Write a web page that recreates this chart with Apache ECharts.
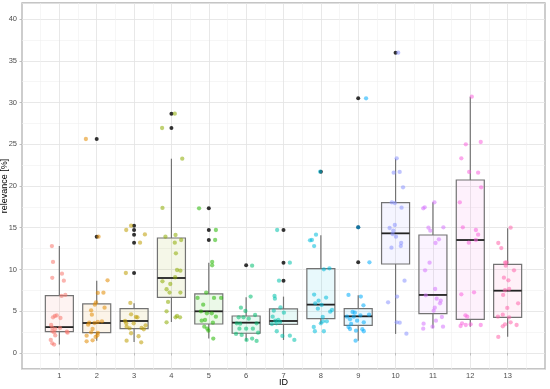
<!DOCTYPE html>
<html>
<head>
<meta charset="utf-8">
<script src="https://cdn.jsdelivr.net/npm/echarts@6/dist/echarts.min.js"></script>
<style>html,body{margin:0;padding:0;background:#fff}#c{width:550px;height:389px}</style>
</head>
<body>
<div id="c"></div>
<script>
// ---------- data ----------
const categories = [1,2,3,4,5,6,7,8,9,10,11,12,13];
const yTicks = [0,5,10,15,20,25,30,35,40];
// [whisker low, Q1, median, Q3, whisker high]
const boxStats = [
  [1.0, 2.55, 3.1, 6.86, 12.8],
  [1.47, 2.43, 3.59, 5.87, 8.66],
  [1.32, 2.91, 3.83, 5.31, 5.95],
  [3.71, 6.67, 8.98, 13.77, 23.27],
  [1.72, 3.47, 4.99, 7.07, 10.82],
  [1.47, 2.36, 3.63, 4.43, 6.67],
  [1.56, 3.43, 3.83, 5.27, 6.75],
  [3.47, 4.11, 5.79, 10.1, 14.09],
  [1.47, 3.31, 4.39, 5.31, 6.91],
  [2.28, 10.66, 14.33, 18.0, 23.27],
  [2.95, 4.71, 6.95, 14.13, 18.05],
  [3.15, 4.03, 13.53, 20.72, 30.7],
  [1.95, 4.27, 7.46, 10.62, 14.93]
];
// outlier values per ID
const outliers = [
  [],
  [25.63, 13.93],
  [15.25, 14.73, 14.17, 13.21, 9.58],
  [28.66, 26.95],
  [17.33, 14.73, 13.53],
  [10.5],
  [14.73, 10.82, 8.66],
  [21.72],
  [30.5, 15.05, 10.86],
  [35.97],
  [],
  [],
  []
];
// jittered observations per ID: [x position, relevance]
const points1 = [[0.80,12.8],[0.83,10.9],[1.07,9.5],[0.81,9.0],[1.12,8.66],[1.06,6.83],[1.16,6.95],[0.88,4.43],[0.93,4.5],[1.03,4.19],[0.83,4.27],[0.78,3.35],[0.81,3.03],[1.02,3.0],[0.89,2.87],[0.81,2.6],[0.86,2.48],[1.20,2.55],[1.22,2.43],[0.89,2.1],[0.77,1.56],[0.81,1.16],[0.86,1.0]];
const points2 = [[2.05,13.93],[1.71,25.63],[2.29,8.7],[2.03,7.19],[2.18,7.22],[1.98,6.07],[1.95,5.79],[2.21,5.43],[1.85,5.11],[1.87,4.59],[2.14,3.79],[1.80,3.63],[1.77,3.39],[1.94,3.59],[2.03,3.71],[1.89,2.87],[1.85,2.47],[2.03,2.4],[2.02,2.12],[1.73,2.07],[1.97,1.92],[1.89,1.52],[1.73,1.40]];
const points3 = [[2.92,15.25],[2.79,14.73],[3.29,14.2],[3.16,13.21],[2.78,9.58],[2.90,5.99],[2.92,4.63],[3.09,4.27],[3.05,4.31],[2.76,3.83],[2.79,3.55],[2.99,3.55],[3.31,3.31],[3.20,3.0],[3.26,2.84],[2.88,2.95],[3.12,2.0],[2.80,1.47],[3.19,1.28],[2.92,2.36],[2.80,3.15]];
const points4 = [[4.09,28.66],[3.75,26.95],[4.29,23.27],[3.76,17.37],[3.84,13.93],[4.11,14.13],[4.09,13.21],[4.26,13.53],[4.12,11.94],[4.15,9.94],[4.24,9.86],[4.10,9.07],[3.76,8.58],[3.97,8.26],[3.87,7.63],[3.95,7.23],[4.24,7.23],[3.91,6.11],[3.87,4.99],[4.15,4.43],[4.23,4.27],[4.11,4.27],[3.87,3.67]];
const points5 = [[4.74,17.33],[5.19,14.73],[5.17,13.53],[5.09,10.9],[5.09,10.5],[4.93,7.23],[4.70,6.59],[5.14,6.59],[5.33,6.59],[4.85,5.79],[4.79,4.99],[5.08,4.75],[4.95,4.75],[5.19,4.35],[4.90,3.95],[4.81,3.87],[5.11,3.63],[4.88,3.15],[4.96,2.91],[4.99,2.67],[5.12,1.72]];
const points6 = [[6.16,10.46],[6.12,6.75],[5.86,5.43],[5.98,5.03],[6.24,4.55],[5.80,4.27],[5.93,4.27],[6.07,4.11],[5.75,3.55],[5.84,3.51],[6.28,3.55],[6.18,2.91],[6.00,2.91],[5.82,2.91],[6.32,2.43],[5.88,2.16],[5.73,2.28],[6.01,1.56],[6.16,1.72],[6.28,1.44]];
const points7 = [[6.83,14.73],[7.17,10.82],[6.88,8.66],[6.76,6.83],[6.77,6.5],[6.92,5.47],[6.74,5.07],[7.01,4.83],[6.71,4.35],[6.86,3.95],[6.78,3.87],[6.91,3.71],[6.81,3.55],[6.69,3.47],[6.82,2.6],[6.97,2.04],[7.17,2.07],[7.29,1.56]];
const points8 = [[7.98,21.72],[7.87,14.17],[7.71,13.49],[7.76,13.53],[7.82,12.81],[8.08,10.02],[8.23,10.14],[7.82,6.99],[8.14,6.63],[7.94,6.27],[7.85,5.95],[8.02,5.75],[8.25,4.95],[8.30,5.15],[7.92,5.31],[8.05,4.31],[8.16,3.79],[8.06,3.79],[8.00,3.55],[7.81,3.11],[7.84,2.6],[8.08,2.6]];
const points9 = [[9.21,30.5],[9.00,15.05],[9.30,10.86],[8.74,6.95],[9.07,6.75],[9.14,5.71],[8.85,4.91],[8.91,4.83],[9.29,4.59],[9.06,4.51],[8.70,4.35],[8.88,4.35],[8.78,4.03],[8.97,3.87],[9.15,3.67],[8.81,3.47],[8.74,3.11],[8.78,2.87],[9.11,2.84],[8.94,2.67],[9.15,2.6],[8.93,1.47]];
const points10 = [[10.07,35.97],[10.03,23.31],[9.95,21.6],[10.11,21.68],[10.20,19.84],[9.90,18.05],[9.98,17.96],[10.16,17.4],[9.98,15.33],[9.84,14.97],[9.92,14.25],[10.01,13.93],[10.15,13.17],[10.14,12.81],[9.89,12.61],[10.24,8.66],[10.04,6.75],[9.80,6.07],[10.03,3.67],[10.11,3.63],[10.29,2.31],[9.94,14.65]];
const points11 = [[11.04,18.05],[10.78,17.45],[10.74,17.33],[11.28,15.05],[10.88,15.01],[10.93,14.65],[11.16,13.61],[11.07,13.17],[10.91,10.82],[10.79,9.9],[11.06,7.66],[10.81,6.91],[11.10,6.5],[11.21,6.26],[11.19,5.95],[11.05,5.43],[11.02,5.07],[11.24,4.31],[11.08,3.87],[10.75,3.51],[10.99,3.15],[11.27,3.15],[10.74,2.91]];
const points12 = [[12.04,30.7],[11.88,24.99],[12.28,25.27],[11.76,23.31],[11.97,21.68],[12.21,21.6],[12.29,19.84],[11.72,18.05],[11.80,15.05],[12.15,14.73],[12.21,14.17],[12.15,13.53],[11.96,13.21],[11.76,7.03],[12.10,7.27],[11.87,4.51],[11.92,4.35],[11.78,3.55],[11.74,3.23],[11.88,3.35],[12.01,3.43],[12.28,3.35]];
const points13 = [[13.08,15.01],[12.75,13.17],[12.83,12.57],[12.93,10.82],[12.97,10.86],[12.95,10.46],[13.17,9.9],[12.90,9.02],[13.02,8.7],[13.04,7.66],[12.93,7.51],[12.88,6.95],[13.28,5.95],[12.99,5.39],[12.74,4.35],[12.87,4.59],[13.04,4.27],[13.08,3.67],[12.93,3.43],[12.87,3.19],[13.24,3.35],[12.75,1.92]];
const pointGroups = [points1,points2,points3,points4,points5,points6,points7,points8,points9,points10,points11,points12,points13];

// ---------- styling ----------
const palette = ['#F8766D','#E18A00','#BE9C00','#8CAB00','#24B700','#00BE70','#00C1AB','#00BBDA','#00ACFC','#8B93FF','#D575FE','#F962DD','#FF65AC'];
function rgba(hex, a){
  const n = parseInt(hex.slice(1),16);
  return 'rgba(' + ((n>>16)&255) + ',' + ((n>>8)&255) + ',' + (n&255) + ',' + a + ')';
}
const yMin = -1.92, yMax = 41.92;
const FONT = 'Liberation Sans, Arial, sans-serif';

const boxData = categories.map((c,i) => [c].concat(boxStats[i]));
const outlierData = [];
categories.forEach((c,i) => outliers[i].forEach(v => outlierData.push([c, v])));

const series = [{
  type: 'custom',
  xAxisIndex: 0, yAxisIndex: 0,
  z: 2,
  encode: { x: 0, y: [1,2,3,4,5] },
  data: boxData,
  renderItem: function(params, api){
    const x = api.value(0);
    const lo = api.coord([x, api.value(1)]);
    const q1 = api.coord([x, api.value(2)]);
    const md = api.coord([x, api.value(3)]);
    const q3 = api.coord([x, api.value(4)]);
    const hi = api.coord([x, api.value(5)]);
    const w = api.size([0.75, 0])[0];
    const col = palette[params.dataIndex];
    const edge = '#737373';
    return { type: 'group', children: [
      { type: 'line', shape: { x1: lo[0], y1: lo[1], x2: q1[0], y2: q1[1] }, style: { stroke: edge, lineWidth: 1.2 } },
      { type: 'line', shape: { x1: q3[0], y1: q3[1], x2: hi[0], y2: hi[1] }, style: { stroke: edge, lineWidth: 1.2 } },
      { type: 'rect', shape: { x: q3[0] - w/2, y: q3[1], width: w, height: q1[1] - q3[1] }, style: { fill: rgba(col, 0.09), stroke: edge, lineWidth: 1.2 } },
      { type: 'line', shape: { x1: md[0] - w/2, y1: md[1], x2: md[0] + w/2, y2: md[1] }, style: { stroke: '#222', lineWidth: 1.8 } }
    ]};
  }
}, {
  type: 'scatter',
  xAxisIndex: 0, yAxisIndex: 0,
  z: 3,
  symbolSize: 4,
  itemStyle: { color: '#000' },
  data: outlierData,
  silent: true
}];
pointGroups.forEach((pts, i) => {
  series.push({
    type: 'scatter',
    xAxisIndex: 0, yAxisIndex: 0,
    z: 4,
    symbolSize: 4.3,
    itemStyle: { color: palette[i], opacity: 0.55 },
    data: pts,
    silent: true
  });
});

const chart = echarts.init(document.getElementById('c'), null, { renderer: 'canvas' });
chart.setOption({
  animation: false,
  backgroundColor: '#fff',
  textStyle: { fontFamily: FONT },
  grid: { left: 22, right: 5, top: 3, bottom: 20, outerBoundsMode: 'none', containLabel: false, show: true, borderColor: '#b3b3b3', borderWidth: 1.3, backgroundColor: '#fff' },
  xAxis: [{
    type: 'value', min: 0, max: 14, interval: 1,
    name: 'ID', nameLocation: 'middle', nameGap: 9.5, nameMoveOverlap: false,
    nameTextStyle: { color: '#000', fontSize: 9, fontFamily: FONT },
    axisLine: { show: false },
    axisTick: { show: true, length: 2.5, lineStyle: { color: '#b3b3b3', width: 0.8 }, customValues: categories },
    axisLabel: { color: '#4d4d4d', fontSize: 7.5, margin: 3, fontFamily: FONT, customValues: categories },
    splitLine: { show: true, lineStyle: { color: '#e2e2e2', width: 0.8 } },
    minorTick: { show: false, splitNumber: 2 },
    minorSplitLine: { show: true, lineStyle: { color: '#f0f0f0', width: 0.6 } }
  }],
  yAxis: [{
    type: 'value', min: yMin, max: yMax, splitNumber: 8, minInterval: 5, maxInterval: 5,
    name: 'relevance [%]', nameLocation: 'middle', nameGap: 13, nameRotate: 90, nameMoveOverlap: false,
    nameTextStyle: { color: '#000', fontSize: 9, fontFamily: FONT },
    axisLine: { show: false },
    axisTick: { show: true, length: 2.5, lineStyle: { color: '#b3b3b3', width: 0.8 }, customValues: yTicks },
    axisLabel: { color: '#4d4d4d', fontSize: 7.5, margin: 5, fontFamily: FONT, customValues: yTicks },
    splitLine: { show: true, lineStyle: { color: '#e2e2e2', width: 0.8 } }
  }, {
    // helper axis, shifted by half a tick, only to draw the minor grid lines at 2.5, 7.5, ...
    type: 'value', min: yMin + 2.5, max: yMax + 2.5, splitNumber: 8, minInterval: 5, maxInterval: 5,
    position: 'left',
    axisLine: { show: false }, axisTick: { show: false }, axisLabel: { show: false },
    splitLine: { show: true, lineStyle: { color: '#f0f0f0', width: 0.6 } }
  }],
  series: series
});
</script>
</body>
</html>
